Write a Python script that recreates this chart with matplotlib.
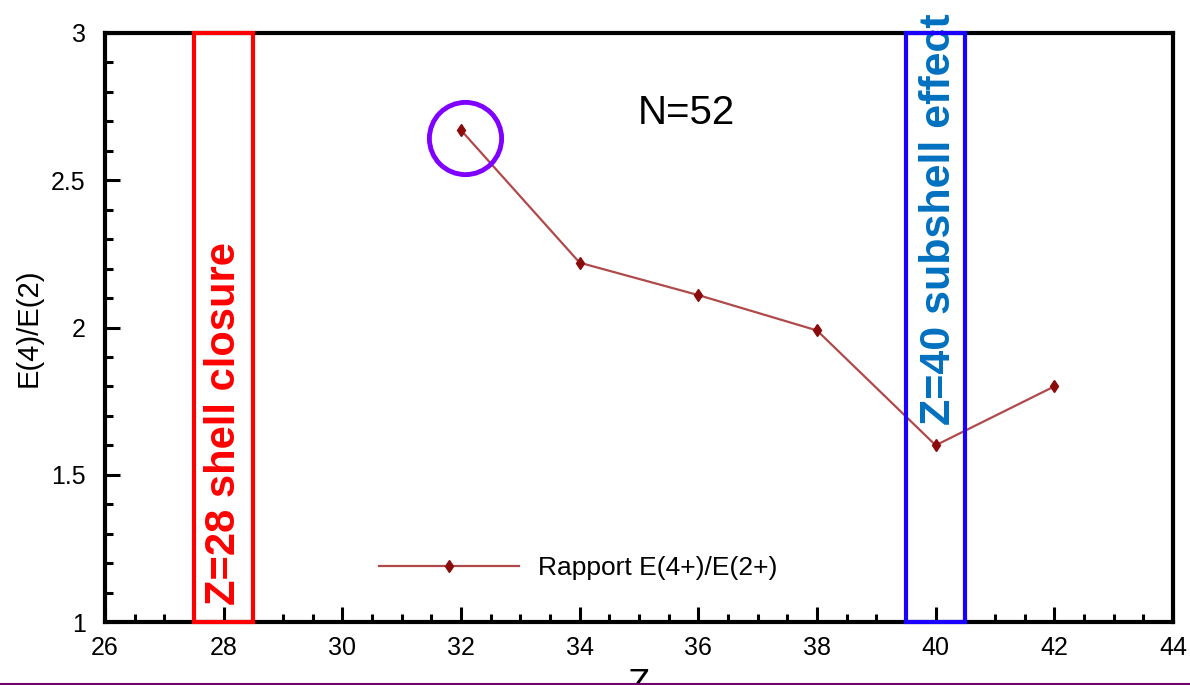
import matplotlib
matplotlib.use("Agg")
import matplotlib.pyplot as plt
from matplotlib.lines import Line2D
from matplotlib.patches import Rectangle
from matplotlib.ticker import MultipleLocator

# ── Data: N=52 isotones, ratio E(4+)/E(2+) vs proton number ──────────────────
Z_VALUES = [32, 34, 36, 38, 40, 42]
RATIO    = [2.67, 2.22, 2.11, 1.99, 1.60, 1.80]

SHELL_Z    = 28     # shell closure
SUBSHELL_Z = 40     # subshell effect
HIGHLIGHT  = (32.07, 2.645)

# ── Style ────────────────────────────────────────────────────────────────────
FONT       = ["Liberation Sans", "DejaVu Sans"]
LINE_CLR   = "#b04a4a"
MARK_CLR   = "#8b0a0a"
RED        = "#ff0000"
BLUE       = "#1a00ff"
BLUE_TXT   = "#0070c0"
CIRCLE_CLR = "#8000ff"

plt.rcParams["font.family"] = FONT

fig = plt.figure(figsize=(11.9, 6.85), dpi=100, facecolor="white")
ax = fig.add_axes([105 / 1190, 1 - 622 / 685, (1173 - 105) / 1190, (622 - 33) / 685])

ax.plot(Z_VALUES, RATIO, color=LINE_CLR, lw=1.6, marker="d", ms=6,
        mfc=MARK_CLR, mec=MARK_CLR, label="Rapport E(4+)/E(2+)", zorder=3)

ax.set_xlim(26, 44)
ax.set_ylim(1, 3)
ax.xaxis.set_major_locator(MultipleLocator(2))
ax.xaxis.set_minor_locator(MultipleLocator(0.5))
ax.yaxis.set_major_locator(MultipleLocator(0.5))
ax.yaxis.set_minor_locator(MultipleLocator(0.1))
ax.set_yticks([1, 1.5, 2, 2.5, 3], ["1", "1.5", "2", "2.5", "3"])

ax.tick_params(which="both", direction="in", top=False, right=False, width=2.2)
ax.tick_params(which="major", length=11, labelsize=18, pad=10)
ax.tick_params(which="minor", length=6)
ax.tick_params(axis="y", pad=14)
for spine in ax.spines.values():
    spine.set_linewidth(3)

ax.set_ylabel("E(4)/E(2)", fontsize=21, labelpad=6)
ax.set_xlabel("Z", fontsize=26, labelpad=6)

# ── Shell-closure boxes ─────────────────────────────────────────────────────
for z, clr in [(SHELL_Z, RED), (SUBSHELL_Z, BLUE)]:
    ax.add_patch(Rectangle((z - 0.5, 1), 1, 2, fill=False, ec=clr, lw=3,
                           zorder=4, clip_on=False))

ax.text(SHELL_Z, 1.058, "Z=28 shell closure", rotation=90, color=RED,
        fontsize=30, fontweight="bold", ha="center", va="bottom")
ax.text(SUBSHELL_Z + 0.06, 1.669, "Z=40 subshell effect", rotation=90,
        color=BLUE_TXT, fontsize=31, fontweight="bold", ha="center",
        va="bottom", clip_on=False)

ax.text(35.8, 2.73, "N=52", fontsize=29, ha="center", va="center")

# circle around the Z=32 point
ax.plot(*HIGHLIGHT, marker="o", ms=52, mfc="none", mec=CIRCLE_CLR, mew=3.5,
        zorder=5)

leg = ax.legend(loc="lower left", bbox_to_anchor=(0.234, 0.031), frameon=False,
                fontsize=19, handlelength=5.3, handletextpad=0.75)

# thin rule along the bottom edge
fig.add_artist(Line2D([0, 1], [0.002, 0.002], color="#700070", lw=1.5,
                      transform=fig.transFigure))

fig.savefig("out.png", dpi=100, facecolor="white")
